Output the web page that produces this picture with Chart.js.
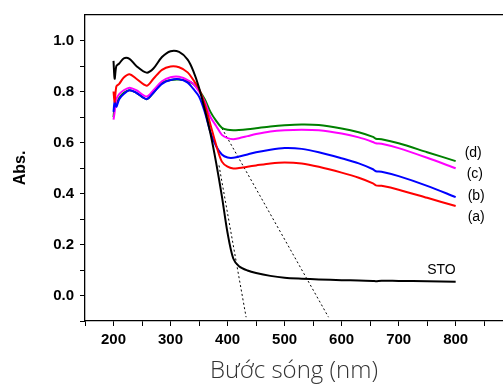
<!DOCTYPE html>
<html>
<head>
<meta charset="utf-8">
<script src="https://cdn.jsdelivr.net/npm/chart.js@4/dist/chart.umd.min.js"></script>
<style>
html,body{margin:0;padding:0;background:#fff;}
#wrap{width:503px;height:388px;position:relative;}
</style>
</head>
<body>
<div id="wrap"><canvas id="c" width="503" height="388"></canvas></div>
<script>
// Wavelength grid (nm)
const wavelengths = [200,202,205,210,218,228,240,258,270,285,300,315,330,340,350,360,370,380,390,400,410,420,435,450,475,500,530,560,600,630,655,660,670,700,750,800];

const stoValues = [0.92,0.85,0.90,0.91,0.93,0.928,0.90,0.874,0.89,0.935,0.958,0.955,0.925,0.88,0.815,0.73,0.635,0.52,0.39,0.245,0.145,0.115,0.098,0.088,0.077,0.070,0.066,0.063,0.060,0.059,0.057,0.056,0.058,0.057,0.056,0.054];
const aValues = [0.80,0.76,0.82,0.83,0.855,0.868,0.85,0.823,0.85,0.885,0.898,0.895,0.875,0.845,0.81,0.75,0.67,0.59,0.525,0.505,0.498,0.50,0.505,0.51,0.518,0.522,0.518,0.505,0.482,0.462,0.44,0.432,0.43,0.415,0.383,0.351];
const bValues = [0.72,0.76,0.74,0.77,0.79,0.805,0.795,0.77,0.795,0.83,0.845,0.848,0.835,0.81,0.78,0.72,0.64,0.585,0.553,0.541,0.54,0.545,0.553,0.562,0.572,0.578,0.575,0.562,0.538,0.518,0.495,0.487,0.485,0.468,0.43,0.386];
const cValues = [0.69,0.72,0.77,0.79,0.805,0.815,0.805,0.78,0.805,0.84,0.856,0.858,0.845,0.83,0.80,0.76,0.70,0.665,0.63,0.617,0.613,0.617,0.625,0.633,0.643,0.648,0.65,0.648,0.635,0.62,0.602,0.597,0.595,0.578,0.54,0.499];
const dValues = [0.70,0.74,0.75,0.775,0.795,0.805,0.795,0.77,0.795,0.835,0.845,0.847,0.84,0.83,0.805,0.77,0.72,0.685,0.658,0.65,0.648,0.649,0.652,0.656,0.663,0.668,0.671,0.669,0.655,0.64,0.622,0.615,0.613,0.597,0.562,0.527];

// Tangent (extrapolation) lines
const tangent1X = [385, 432.5];
const tangent1Y = [0.51, -0.085];
const tangent2X = [390, 577];
const tangent2Y = [0.656, -0.085];

const seriesNames = ['STO','(a)','(b)','(c)','(d)'];
const seriesColors = ['#000000','#ff0000','#0000ff','#ff00ff','#008000'];
const seriesValues = [stoValues, aValues, bValues, cValues, dValues];

const xTickValues = [150,200,250,300,350,400,450,500,550,600,650,700,750,800,850];
const yTickTenths = [-1,0,1,2,3,4,5,6,7,8,9,10];

function pts(xs, ys){ return xs.map((x,i)=>({x:x, y:ys[i]})); }

const datasets = seriesValues.map((vals,i)=>({
  label: seriesNames[i],
  data: pts(wavelengths, vals),
  borderColor: seriesColors[i],
  borderWidth: 2,
  pointRadius: 0,
  tension: 0.3,
  fill: false
}));
datasets.push({label:'t1', data: pts(tangent1X,tangent1Y), borderColor:'#000', borderWidth:1, borderDash:[2,2.5], pointRadius:0, fill:false});
datasets.push({label:'t2', data: pts(tangent2X,tangent2Y), borderColor:'#000', borderWidth:1, borderDash:[2,2.5], pointRadius:0, fill:false});

// label offsets in pixels relative to each series' last point
const labelOffsets = {
  'STO': {dx:0, dy:-12, align:'right'},
  '(a)': {dx:12, dy:11, align:'left'},
  '(b)': {dx:12, dy:-1, align:'left'},
  '(c)': {dx:11, dy:6, align:'left'},
  '(d)': {dx:9, dy:-8, align:'left'}
};

const seriesLabelPlugin = {
  id:'seriesLabels',
  afterDatasetsDraw(chart){
    const ctx = chart.ctx;
    const xs = chart.scales.x, ys = chart.scales.y;
    ctx.save();
    ctx.font = '14px "Liberation Sans", Arial, sans-serif';
    ctx.fillStyle = '#000';
    ctx.textBaseline = 'middle';
    seriesNames.forEach((name,i)=>{
      const vals = seriesValues[i];
      const px = xs.getPixelForValue(wavelengths[wavelengths.length-1]);
      const py = ys.getPixelForValue(vals[vals.length-1]);
      const o = labelOffsets[name];
      ctx.textAlign = o.align;
      ctx.fillText(name, px + o.dx, py + o.dy);
    });
    ctx.restore();
  }
};

const tickFont = {family:'"Liberation Sans", Arial, sans-serif', size:15, weight:'bold'};

new Chart(document.getElementById('c'), {
  type:'line',
  data:{datasets},
  plugins:[seriesLabelPlugin],
  options:{
    responsive:false,
    animation:false,
    layout:{padding:{top:10,right:0,bottom:0,left:0}},
    plugins:{legend:{display:false}, tooltip:{enabled:false}},
    scales:{
      x:{
        type:'linear', position:'bottom', min:150, max:883,
        afterBuildTicks(s){ s.ticks = xTickValues.map(v=>({value:v})); },
        afterFit(s){ s.height = 67; },
        grid:{drawOnChartArea:false, drawTicks:true, tickLength:5, tickColor:'#000', tickWidth:1},
        border:{display:true, color:'#000', width:1.3},
        ticks:{
          font:tickFont, color:'#000', padding:5, maxRotation:0, autoSkip:false,
          callback:(v)=> (v%100===0 && v>=200 && v<=800) ? String(v) : ''
        },
        title:{display:true, text:'Bước sóng (nm)', color:'#333',
          font:{family:'"Open Sans", "Noto Sans", sans-serif', size:24, weight:'300'},
          padding:{top:0,bottom:2}}
      },
      xTop:{
        type:'linear', position:'top', min:150, max:883, display:true,
        afterFit(s){ s.height = 0; },
        grid:{display:false, drawTicks:false},
        ticks:{display:false},
        border:{display:true, color:'#000', width:1.3}
      },
      y:{
        type:'linear', min:-0.1, max:1.1,
        afterBuildTicks(s){ s.ticks = yTickTenths.map(t=>({value:t/10})); },
        afterFit(s){ s.width = 85; },
        grid:{drawOnChartArea:false, drawTicks:true, tickLength:5, tickColor:'#000', tickWidth:1},
        border:{display:true, color:'#000', width:1.3},
        ticks:{
          font:tickFont, color:'#000', padding:6, autoSkip:false,
          callback:(v)=>{ const t=Math.round(v*10); return (t>=0 && t%2===0) ? (t/10).toFixed(1) : ''; }
        },
        title:{display:true, text:'Abs.', color:'#000',
          font:{family:'"Liberation Sans", Arial, sans-serif', size:16, weight:'bold'},
          padding:{top:11,bottom:0}}
      }
    }
  }
});
</script>
</body>
</html>
